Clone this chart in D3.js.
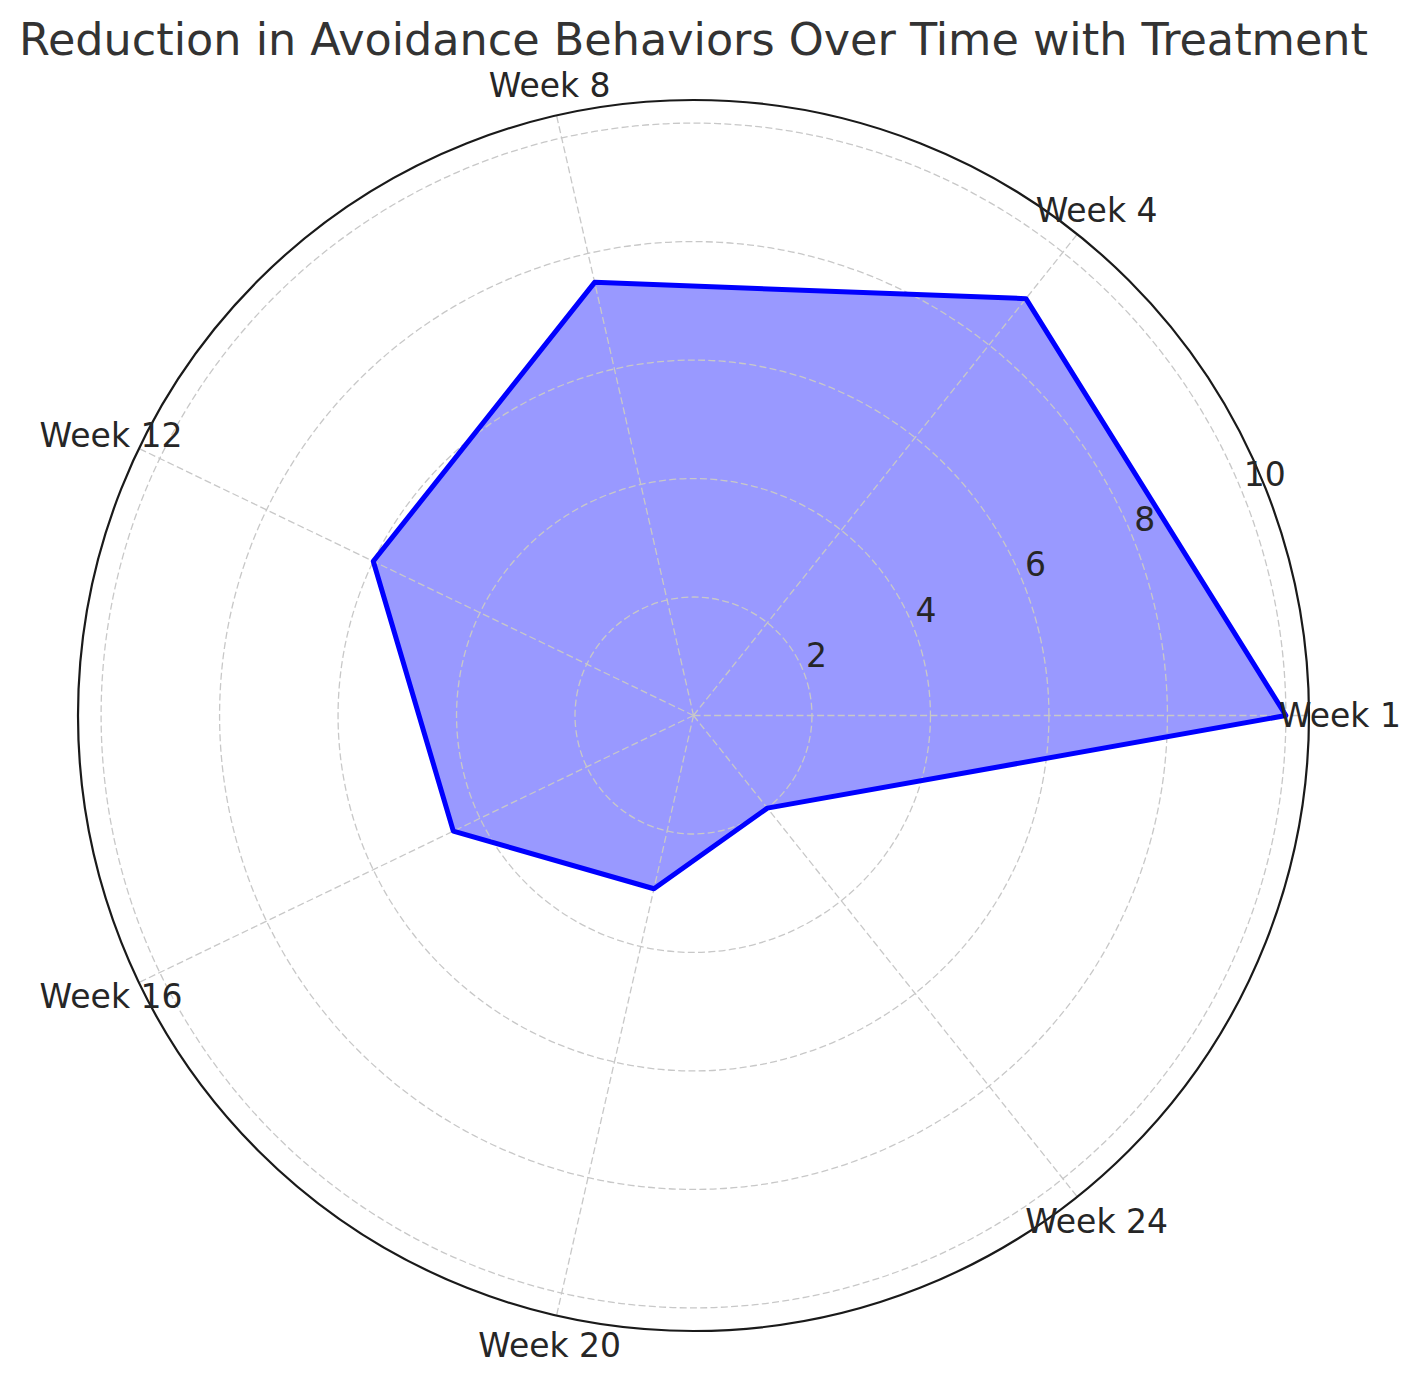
<!DOCTYPE html>
<html>
<head>
<meta charset="utf-8">
<script src="https://cdn.jsdelivr.net/npm/d3@7"></script>
<style>
  html, body { margin: 0; padding: 0; background: #ffffff; }
  svg { display: block; }
</style>
</head>
<body>
<svg id="chart" width="1421" height="1381"></svg>
<script>
const categories = ["Week 1", "Week 4", "Week 8", "Week 12", "Week 16", "Week 20", "Week 24"];
const values = [10, 9, 7.5, 6, 4.5, 3, 2];
const radialTicks = [2, 4, 6, 8, 10];
const radialMax = 10.39;
const title = "Reduction in Avoidance Behaviors Over Time with Treatment";

const W = 1421, H = 1381;
const cx = 693.5, cy = 715.5, R = 615.5;
const svg = d3.select("#chart");
const g = svg.append("g").attr("transform", `translate(${cx},${cy})`);

const r = d3.scaleLinear().domain([0, radialMax]).range([0, R]);
const n = categories.length;
const theta = d3.scaleLinear().domain([0, n]).range([0, 2 * Math.PI]);
const px = (t, rr) => rr * Math.cos(t);
const py = (t, rr) => -rr * Math.sin(t);

const radial = d3.lineRadial()
  .angle((d, i) => Math.PI / 2 - theta(i))
  .radius(d => r(d))
  .curve(d3.curveLinearClosed);

// data fill (below grid)
g.append("path")
  .attr("d", radial(values))
  .attr("fill", "#0000ff")
  .attr("fill-opacity", 0.4)
  .attr("stroke", "none");

// grid circles
g.selectAll("circle.grid").data(radialTicks).join("circle")
  .attr("class", "grid")
  .attr("r", d => r(d))
  .attr("fill", "none")
  .attr("stroke", "#c8c8c8")
  .attr("stroke-width", 1.3)
  .attr("stroke-dasharray", "7,3.3");

// spokes
g.selectAll("line.spoke").data(categories).join("line")
  .attr("class", "spoke")
  .attr("x1", 0).attr("y1", 0)
  .attr("x2", (d, i) => px(theta(i), R))
  .attr("y2", (d, i) => py(theta(i), R))
  .attr("stroke", "#c8c8c8")
  .attr("stroke-width", 1.3)
  .attr("stroke-dasharray", "7,3.3");

// data line
g.append("path")
  .attr("d", radial(values))
  .attr("fill", "none")
  .attr("stroke", "#0000ff")
  .attr("stroke-width", 5)
  .attr("stroke-linejoin", "round");

// outer frame
g.append("circle")
  .attr("r", R)
  .attr("fill", "none")
  .attr("stroke", "#1a1a1a")
  .attr("stroke-width", 2.2);

// radial tick labels at 22.5°
const rlAngle = 22.5 * Math.PI / 180;
g.selectAll("text.rtick").data(radialTicks).join("text")
  .attr("class", "rtick")
  .attr("x", d => px(rlAngle, r(d)) + 3)
  .attr("y", d => py(rlAngle, r(d)) - 3)
  .attr("text-anchor", "start")
  .attr("font-family", "DejaVu Sans")
  .attr("font-size", 33)
  .attr("fill", "#262626")
  .text(d => d);

// category labels
g.selectAll("text.cat").data(categories).join("text")
  .attr("class", "cat")
  .attr("x", (d, i) => px(theta(i), R + 31))
  .attr("y", (d, i) => py(theta(i), R + 31))
  .attr("dy", "0.35em")
  .attr("text-anchor", "middle")
  .attr("font-family", "DejaVu Sans")
  .attr("font-size", 33)
  .attr("fill", "#262626")
  .text(d => d);

// title
svg.append("text")
  .attr("x", 693.5)
  .attr("y", 55)
  .attr("text-anchor", "middle")
  .attr("font-family", "DejaVu Sans")
  .attr("font-size", 44.5)
  .attr("fill", "#333333")
  .text(title);
</script>
</body>
</html>
